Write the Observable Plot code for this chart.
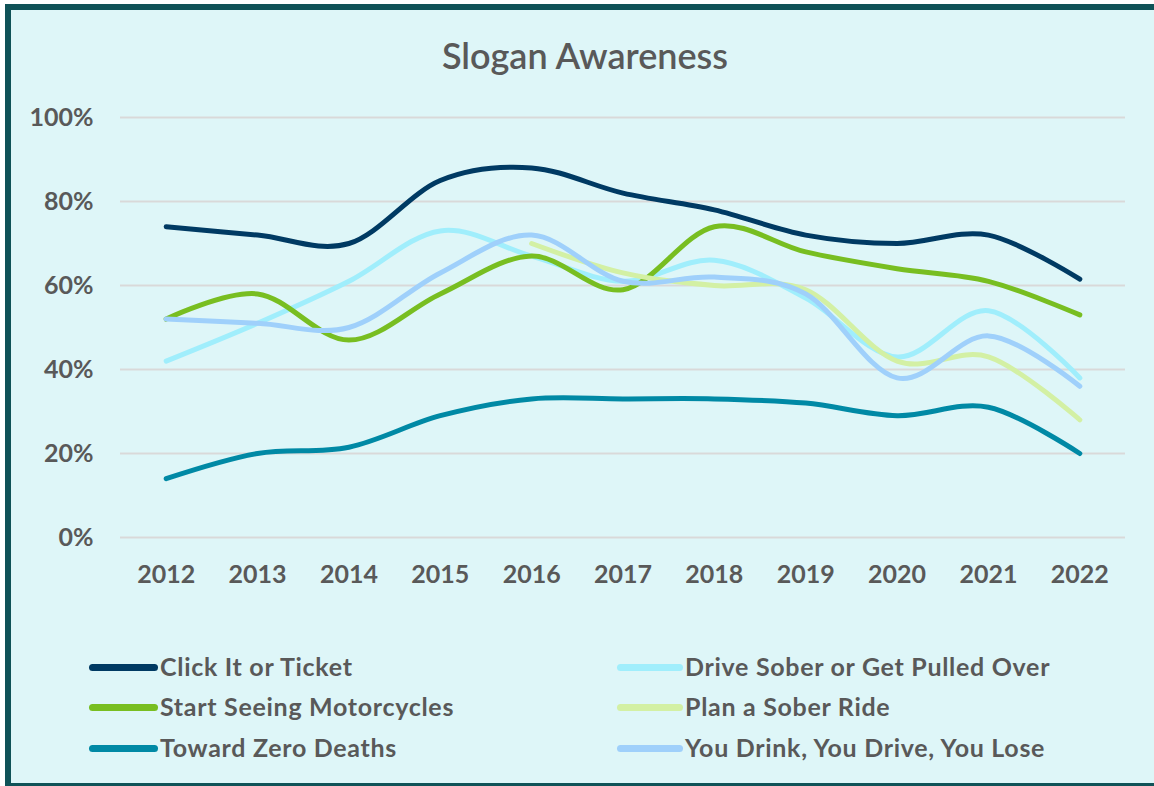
<!DOCTYPE html>
<html>
<head>
<meta charset="utf-8">
<script src="https://cdn.jsdelivr.net/npm/d3@7"></script>
<script src="https://cdn.jsdelivr.net/npm/@observablehq/plot@0.6"></script>
<style>
  html, body { margin: 0; padding: 0; width: 1154px; height: 786px; overflow: hidden; background: #ffffff; font-family: Lato, "Open Sans", sans-serif; }
  #frame { position: absolute; left: 5px; top: 4px; width: 1149px; height: 785px; box-sizing: border-box; border: 6px solid #0F5257; border-right: 0; background: #DEF6F8; }
  #title { position: absolute; left: 0; top: 34px; width: 1170px; text-align: center; font-size: 36px; line-height: 42px; color: #595959; font-weight: 600; }
  #chart { position: absolute; left: 0; top: 0; }
  .sw { position: absolute; height: 7px; border-radius: 4px; }
  .lt { position: absolute; font-size: 25px; line-height: 30px; letter-spacing: 0.7px; font-weight: bold; color: #595959; white-space: nowrap; }
</style>
</head>
<body>
<div id="frame"></div>
<div id="title">Slogan Awareness</div>
<div id="chart"></div>
<div id="legend"></div>
<script>
const years = [2012, 2013, 2014, 2015, 2016, 2017, 2018, 2019, 2020, 2021, 2022];
const seriesNames = [
  "Click It or Ticket",
  "Drive Sober or Get Pulled Over",
  "Start Seeing Motorcycles",
  "Plan a Sober Ride",
  "Toward Zero Deaths",
  "You Drink, You Drive, You Lose"
];
const seriesColors = ["#003A63", "#A0EEFC", "#78BE21", "#D3F0A4", "#0089A5", "#9FD0FB"];

const clickItOrTicket   = [74, 72, 70, 85, 88, 82, 78, 72, 70, 72, 61.5];
const driveSober        = [42, 51, 61, 73, 67, 61, 66, 57, 43, 54, 38];
const startSeeing       = [52, 58, 47, 58, 67, 59, 74, 68, 64, 61, 53];
const planSoberRide     = [null, null, null, null, 70, 63, 60, 59, 42, 43, 28];
const towardZeroDeaths  = [14, 20, 21.5, 29, 33, 33, 33, 32, 29, 31, 20];
const youDrinkYouDrive  = [52, 51, 50, 63, 72, 61, 62, 58, 38, 48, 36];

const yTicks = [0, 20, 40, 60, 80, 100];

const seriesValues = [clickItOrTicket, driveSober, startSeeing, planSoberRide, towardZeroDeaths, youDrinkYouDrive];
const data = seriesNames.flatMap((name, i) =>
  years.map((year, j) => ({ series: name, year, value: seriesValues[i][j] }))
       .filter(d => d.value != null)
);

const chart = Plot.plot({
  width: 1154,
  height: 600,
  marginLeft: 120,
  marginRight: 29,
  marginTop: 117,
  marginBottom: 63,
  style: { background: "transparent", fontFamily: "Lato, sans-serif", fontSize: "25px", fontWeight: "bold", color: "#595959" },
  x: { domain: [2011.5, 2022.5] },
  y: { domain: [0, 100] },
  color: { domain: seriesNames, range: seriesColors },
  marks: [
    Plot.ruleY(yTicks, { stroke: "#D9D9D9", strokeWidth: 2 }),
    Plot.axisY(yTicks, { tickSize: 0, tickPadding: 27, tickFormat: d => d + "%", label: null }),
    Plot.axisX(years, { tickSize: 0, tickPadding: 28, tickFormat: d => String(d), label: null }),
    Plot.line(data, { x: "year", y: "value", z: "series", stroke: "series", strokeWidth: 5, curve: "cardinal", strokeLinecap: "round", strokeLinejoin: "round" })
  ]
});
document.getElementById("chart").appendChild(chart);

// legend (row-major, two columns)
const legend = document.getElementById("legend");
const colX = [[89, 160], [617, 685]];
const rowY = [667, 707, 748];
seriesNames.forEach((name, i) => {
  const col = i % 2, row = Math.floor(i / 2);
  const sw = document.createElement("div");
  sw.className = "sw";
  sw.style.left = colX[col][0] + "px";
  sw.style.width = (colX[col][1] - colX[col][0] - 2) + "px";
  sw.style.top = (rowY[row] - 3.5) + "px";
  sw.style.background = seriesColors[i];
  legend.appendChild(sw);
  const t = document.createElement("div");
  t.className = "lt";
  t.textContent = name;
  t.style.left = colX[col][1] + "px";
  t.style.top = (rowY[row] - 16) + "px";
  legend.appendChild(t);
});
</script>
</body>
</html>
